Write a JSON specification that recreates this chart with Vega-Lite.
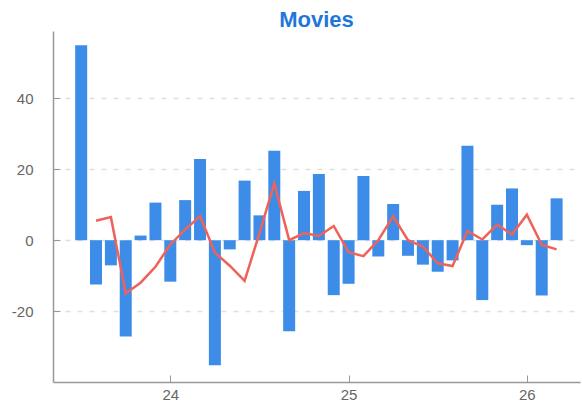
{
  "$schema": "https://vega.github.io/schema/vega-lite/v6.json",
  "width": 527,
  "height": 351,
  "autosize": "none",
  "padding": {"left": 53, "top": 31, "right": 2, "bottom": 23},
  "background": "white",
  "title": {"text": "Movies", "fontSize": 22, "font": "Liberation Sans", "fontWeight": "bold", "color": "#1f77d8", "offset": -1, "anchor": "middle"},
  "config": {
    "view": {"stroke": null},
    "axis": {"labelFont": "Liberation Sans", "labelFontSize": 15, "labelColor": "#666666", "domainColor": "#999999", "domainWidth": 1.5, "tickColor": "#999999", "tickWidth": 1, "title": null}
  },
  "datasets": {
    "bars": [
      {"t": 23.5, "v": 55},
      {"t": 23.5833, "v": -12.5},
      {"t": 23.6667, "v": -7.1},
      {"t": 23.75, "v": -27.2},
      {"t": 23.8333, "v": 1.3},
      {"t": 23.9167, "v": 10.6},
      {"t": 24, "v": -11.7},
      {"t": 24.0833, "v": 11.3},
      {"t": 24.1667, "v": 22.9},
      {"t": 24.25, "v": -35.3},
      {"t": 24.3333, "v": -2.6},
      {"t": 24.4167, "v": 16.8},
      {"t": 24.5, "v": 7},
      {"t": 24.5833, "v": 25.2},
      {"t": 24.6667, "v": -25.7},
      {"t": 24.75, "v": 13.9},
      {"t": 24.8333, "v": 18.7},
      {"t": 24.9167, "v": -15.5},
      {"t": 25, "v": -12.3},
      {"t": 25.0833, "v": 18.1},
      {"t": 25.1667, "v": -4.6},
      {"t": 25.25, "v": 10.2},
      {"t": 25.3333, "v": -4.4},
      {"t": 25.4167, "v": -6.9},
      {"t": 25.5, "v": -8.9},
      {"t": 25.5833, "v": -5.7},
      {"t": 25.6667, "v": 26.6},
      {"t": 25.75, "v": -16.9},
      {"t": 25.8333, "v": 10},
      {"t": 25.9167, "v": 14.6},
      {"t": 26, "v": -1.4},
      {"t": 26.0833, "v": -15.6},
      {"t": 26.1667, "v": 11.8}
    ],
    "line": [
      {"t": 23.5833, "v": 5.5},
      {"t": 23.6667, "v": 6.5},
      {"t": 23.75, "v": -15},
      {"t": 23.8333, "v": -12},
      {"t": 23.9167, "v": -7.5},
      {"t": 24, "v": -1.2},
      {"t": 24.0833, "v": 3},
      {"t": 24.1667, "v": 6.8},
      {"t": 24.25, "v": -3.5},
      {"t": 24.3333, "v": -7.2},
      {"t": 24.4167, "v": -11.5},
      {"t": 24.5, "v": 2},
      {"t": 24.5833, "v": 16},
      {"t": 24.6667, "v": 0},
      {"t": 24.75, "v": 2},
      {"t": 24.8333, "v": 1.2},
      {"t": 24.9167, "v": 4},
      {"t": 25, "v": -3.4},
      {"t": 25.0833, "v": -4.5},
      {"t": 25.1667, "v": 0},
      {"t": 25.25, "v": 6.7},
      {"t": 25.3333, "v": 0},
      {"t": 25.4167, "v": -1.8},
      {"t": 25.5, "v": -6.5},
      {"t": 25.5833, "v": -7.3},
      {"t": 25.6667, "v": 2.6},
      {"t": 25.75, "v": 0.2},
      {"t": 25.8333, "v": 4.4},
      {"t": 25.9167, "v": 1.6},
      {"t": 26, "v": 7.2},
      {"t": 26.0833, "v": -1.3},
      {"t": 26.1667, "v": -2.6}
    ]
  },
  "layer": [
    {
      "data": {"name": "bars"},
      "mark": {"type": "bar", "size": 12, "color": "#3d8de8"},
      "encoding": {
        "x": {"field": "t", "type": "quantitative",
              "scale": {"domain": [23.37, 26.27], "nice": false, "zero": false},
              "axis": {"values": [24, 25, 26], "format": "d", "grid": false, "tickSize": -7, "labelPadding": 12}},
        "y": {"field": "v", "type": "quantitative",
              "scale": {"domain": [-40, 59], "nice": false},
              "axis": {"values": [-20, 0, 20, 40], "labelExpr": "'' + datum.value", "grid": true, "gridDash": [5, 7], "gridColor": "#e0e0e0", "gridWidth": 1.5, "tickSize": -7, "labelPadding": 27}}
      }
    },
    {
      "data": {"name": "line"},
      "mark": {"type": "line", "color": "#ef6259", "strokeWidth": 2.5},
      "encoding": {
        "x": {"field": "t", "type": "quantitative"},
        "y": {"field": "v", "type": "quantitative"}
      }
    }
  ]
}
